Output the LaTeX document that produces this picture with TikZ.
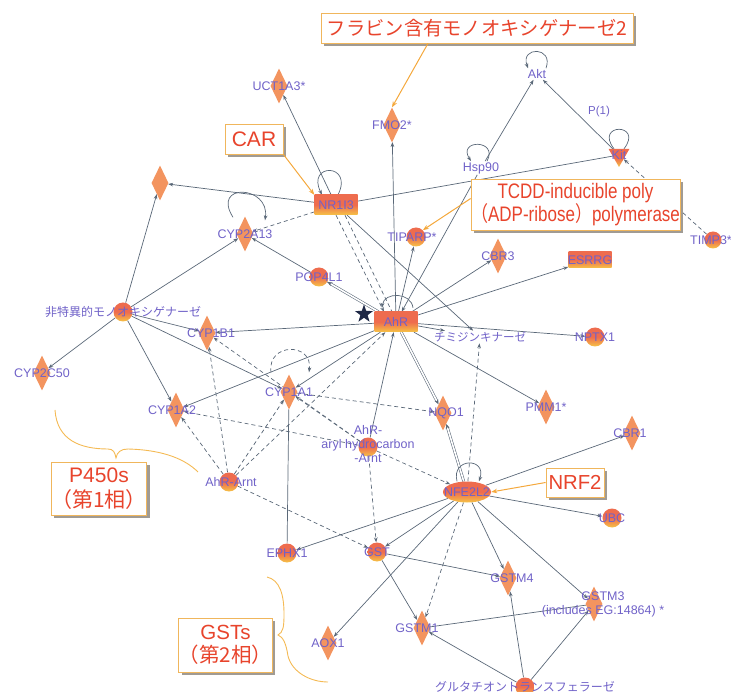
\documentclass[tikz,border=0pt]{standalone}
\usepackage{fontspec}
\setmainfont{Liberation Sans}
\newfontfamily\jp{Noto Sans CJK JP}
\newfontfamily\narrowsans[FakeStretch=0.81]{Liberation Sans}
\newfontfamily\narrowjp[FakeStretch=0.81]{Noto Sans CJK JP}
\usetikzlibrary{shapes.geometric,arrows.meta,calc,backgrounds,shadows}
\definecolor{linec}{RGB}{90,104,120}
\definecolor{labc}{RGB}{112,98,200}
\definecolor{diac}{RGB}{243,148,95}
\definecolor{nodetop}{RGB}{238,108,78}
\definecolor{nodebot}{RGB}{246,196,70}
\definecolor{callr}{RGB}{232,68,44}
\definecolor{callb}{RGB}{240,182,92}
\definecolor{shadowc}{RGB}{160,155,148}
\definecolor{orarr}{RGB}{244,168,60}
\definecolor{bracec}{RGB}{244,186,84}
\definecolor{starc}{RGB}{30,40,70}
\begin{document}
\begin{tikzpicture}[x=1pt,y=-1pt,
  lab/.style={text=labc, font=\fontsize{12.5}{14}\selectfont, inner sep=0pt},
  jlab/.style={text=labc, font=\jp\fontsize{12}{14}\selectfont, inner sep=0pt},
  txt/.style={text=labc, font=\fontsize{12.5}{14}\selectfont, inner sep=1pt},
  dia/.style={diamond, fill=diac, minimum width=17pt, minimum height=35pt, inner sep=0pt},
  circ/.style={circle, minimum size=19pt, inner sep=0pt, top color=nodetop, bottom color=nodebot, middle color=nodetop},
  rct/.style={rectangle, minimum width=43pt, minimum height=20pt, inner sep=0pt, top color=nodetop, bottom color=nodebot, middle color=nodetop},
  ell/.style={ellipse, minimum width=48pt, minimum height=21pt, inner sep=0pt, top color=nodetop, bottom color=nodebot, middle color=nodetop},
  tri/.style={regular polygon, regular polygon sides=3, shape border rotate=180, minimum size=24pt, inner sep=0pt, top color=nodetop, bottom color=nodebot, middle color=nodetop},
  call/.style={draw=callb, line width=0.8pt, fill=white, text=callr, inner sep=0pt, align=center,
     drop shadow={shadow xshift=3pt, shadow yshift=-3pt, fill=shadowc, opacity=1}},
  ed/.style={draw=linec, line width=0.7pt, -{Stealth[length=5pt,width=3.6pt]}},
  edd/.style={ed, dash pattern=on 4pt off 3pt},
  pl/.style={draw=linec, line width=0.7pt},
  pld/.style={pl, dash pattern=on 4pt off 3pt},
  dbl/.style={draw=linec, line width=0.55pt, double=white, double distance=1.6pt, -{Stealth[length=5pt,width=4pt]}},
  carr/.style={draw=orarr, line width=1pt, -{Stealth[length=6pt,width=4.5pt]}},
  brc/.style={draw=bracec, line width=0.9pt}
]
\useasboundingbox (0,0) rectangle (731,692);

% ---------- nodes ----------
\node[txt] (akt) at (537,74) {Akt};
\node[tri, label={[lab]center:Kit}] (kit) at (619,155) {};
\node[txt] (hsp) at (481,168) {Hsp90};
\node[txt, font=\fontsize{11.5}{13}\selectfont] (p1) at (599,112) {P(1)};
\node[circ, minimum size=17pt, label={[lab,xshift=-2pt]center:TIMP3*}] (timp) at (713,240) {};
\node[dia, label={[lab]center:UCT1A3*}] (uct) at (279,86) {};
\node[dia, label={[lab]center:FMO2*}] (fmo) at (392,125) {};
\node[rct, label={[lab]center:NR1I3}] (nr) at (336,205) {};
\node[dia] (unk) at (160,183) {};
\node[dia, label={[lab]center:CYP2A13}] (c2a13) at (245,234) {};
\node[circ, label={[lab]center:POP4L1}] (pop) at (319,277) {};
\node[circ, label={[lab,xshift=-4pt]center:TIPARP*}] (tip) at (416,237) {};
\node[dia, label={[lab]center:CBR3}] (cbr3) at (498,256) {};
\node[rct, minimum height=16pt, label={[lab]center:ESRRG}] (esrrg) at (590,260) {};
\node[rct, label={[lab]center:AhR}] (ahr) at (396,322) {};
\node[star, star points=5, star point ratio=2.5, fill=starc, minimum size=19pt, inner sep=0pt] (star) at (364,314) {};
\node[circ, label={[jlab]center:非特異的モノオキシゲナーゼ}] (nons) at (123,312) {};
\node[dia, label={[lab,xshift=4pt]center:CYP1B1}] (c1b1) at (207,333) {};
\node[txt, font=\jp\fontsize{11.5}{13}\selectfont] (thym) at (480,337) {チミジンキナーゼ};
\node[circ, label={[lab]center:NPTX1}] (nptx) at (595,337) {};
\node[dia, label={[lab]center:CYP2C50}] (c2c50) at (42,373) {};
\node[dia, label={[lab,xshift=-4pt]center:CYP1A2}] (c1a2) at (176,410) {};
\node[dia, label={[lab]center:CYP1A1}] (c1a1) at (289,392) {};
\node[dia, label={[lab,xshift=3pt]center:NQO1}] (nqo) at (443,413) {};
\node[dia, label={[lab]center:PMM1*}] (pmm) at (546,407) {};
\node[circ, label={[lab,align=center,yshift=3pt]center:{AhR-\\aryl hydrocarbon\\-Arnt}}] (aryl) at (368,447) {};
\node[circ, label={[lab,xshift=2pt]center:AhR-Arnt}] (ahrarnt) at (229,482) {};
\node[ell, label={[lab]center:NFE2L2}] (nfe) at (467,492) {};
\node[dia, label={[lab,xshift=-2pt]center:CBR1}] (cbr1) at (632,433) {};
\node[circ, label={[lab]center:UBC}] (ubc) at (612,518) {};
\node[circ, label={[lab]center:EPHX1}] (ephx) at (287,553) {};
\node[circ, label={[lab]center:GST}] (gst) at (377,552) {};
\node[dia, label={[lab,xshift=4pt]center:GSTM4}] (gstm4) at (508,578) {};
\node[dia, label={[lab,align=center,xshift=9pt]center:{GSTM3\\(includes EG:14864) *}}] (gstm3) at (594,604) {};
\node[dia, label={[lab,xshift=-5pt]center:GSTM1}] (gstm1) at (422,628) {};
\node[dia, label={[lab]center:AOX1}] (aox) at (328,643) {};
\node[circ, label={[jlab]center:グルタチオントランスフェラーゼ}] (glut) at (525,687) {};

% ---------- callouts ----------
\node[call, minimum width=312pt, minimum height=30pt, font=\jp\fontsize{19.3}{22}\selectfont] (flav) at (477,28) {フラビン含有モノオキシゲナーゼ2};
\node[call, minimum width=58pt, minimum height=30pt, font=\fontsize{21}{24}\selectfont] (car) at (254,139) {CAR};
\node[call, minimum width=195pt, minimum height=51pt, font=\narrowsans\fontsize{21}{23}\selectfont] (tcdd) at (575.5,204.5) {TCDD-inducible poly\\{\narrowjp （}ADP-ribose{\narrowjp ）}polymerase};
\node[call, minimum width=58pt, minimum height=29pt, font=\fontsize{20.3}{24}\selectfont] (nrf) at (575,482.5) {NRF2};
\node[call, minimum width=92pt, minimum height=53pt, font=\fontsize{21}{25}\selectfont] (p450) at (99,488.5) {P450s\\{\jp （第1相）}};
\node[call, minimum width=91pt, minimum height=54pt, font=\fontsize{20.5}{23}\selectfont] (gsts) at (225.5,645) {GSTs\\{\jp （第2相）}};

\draw[carr] ([xshift=-49pt]flav.south) -- (fmo.north);
\draw[carr] (car.south east) -- (nr.north west);
\draw[carr] ([yshift=6pt]tcdd.west) -- (tip.north east);
\draw[carr] (nrf.west) -- (nfe.east);

% braces
\draw[brc] (55,410) .. controls (57,440) and (80,449) .. (108,449) .. controls (113,449) and (115,452) .. (116,458) .. controls (117,452) and (121,449) .. (128,449) .. controls (165,450) and (186,460) .. (198,472);
\draw[brc] (267,577) .. controls (280,580) and (284,595) .. (284,614) .. controls (284,628) and (283,632) .. (278,635) .. controls (283,637) and (286,643) .. (288,656) .. controls (292,672) and (310,682) .. (328,682);

% ---------- edges ----------
\begin{scope}[on background layer]
\draw[ed] (ahr) -- (c1b1);
\draw[ed] (ahr) -- (c1a2);
\draw[ed] (ahr) -- (c1a1);
\draw[ed] (ahr) -- (c2a13);
\draw[dbl] (ahr) -- (pop);
\draw[ed] (ahr) -- (fmo);
\draw[ed] (ahr) -- (tip);
\draw[ed] (ahr) -- (cbr3);
\draw[ed] (ahr) -- (esrrg);
\draw[ed] (ahr) -- (nptx);
\draw[ed] (ahr) -- (thym);
\draw[ed] (ahr) -- (pmm);
\draw[dbl] (ahr) -- (nqo);
\draw[ed] (aryl) -- (ahr);
\draw[ed] (hsp) -- (ahr);
\draw[ed] (hsp) -- (akt);
\draw[ed] (kit) -- (akt);
\draw[edd] (timp) -- (kit);
\draw[pl] (nr) -- (kit);
\draw[ed] (nr) -- (uct);
\draw[ed] (nr) -- (unk);
\draw[edd] (nr) -- (c2a13);
\draw[edd] (nr.south) -- ([xshift=-12pt]ahr.north);
\draw[pld] ([xshift=9pt]nr.south) -- ([xshift=-4pt]ahr.north);
\draw[ed] (nr) -- (thym);
% non-specific monooxygenase
\draw[ed] (nons) -- (unk);
\draw[ed] (nons) -- (c2a13);
\draw[ed] (nons) -- (c1b1);
\draw[ed] (nons) -- (c1a1);
\draw[ed] (nons) -- (c1a2);
\draw[ed] (nons) -- (c2c50);
% dashed cluster
\draw[edd] (ahrarnt) -- (c1a2);
\draw[edd] (ahrarnt) -- (c1b1);
\draw[edd] (ahrarnt) -- (c1a1);
\draw[edd] (ahrarnt) -- (ahr);
\draw[edd] (ahrarnt) -- (gst);
\draw[edd] (aryl) -- (c1a2);
\draw[edd] (aryl) -- (c1a1);
\draw[edd] (aryl) -- (c1b1);
\draw[edd] (aryl) -- (nfe);
\draw[edd] (aryl) -- (gst);
\draw[edd] (c1a1) -- (nqo);
\draw[pl] (c1a1) -- (ephx);
% NFE2L2
\draw[dbl] (nfe) -- (nqo);
\draw[edd] (nfe) -- (thym);
\draw[ed] (nfe) -- (cbr1);
\draw[ed] (nfe) -- (ubc);
\draw[ed] (nfe) -- (gstm3);
\draw[ed] (nfe) -- (gstm4);
\draw[ed] (nfe) -- (gst);
\draw[ed] (nfe) -- (ephx);
\draw[ed] (nfe) -- (aox);
\draw[edd] (nfe) -- (gstm1);
% GSTs
\draw[ed] (gst) -- (gstm1);
\draw[ed] (gst) -- (gstm4);
\draw[pl] (gstm1) -- (gstm3);
\draw[ed] (glut) -- (gstm1);
\draw[ed] (glut) -- (gstm4);
\draw[ed] (glut) -- (gstm3);
% self loops
\draw[ed] ([xshift=9pt]akt.north) .. controls +(8,-22) and +(-8,-22) .. ([xshift=-9pt]akt.north);
\draw[pl] ([xshift=-5pt]kit.north) .. controls +(-20,-26) and +(20,-26) .. ([xshift=5pt]kit.north);
\draw[ed] ([xshift=6pt]hsp.north) .. controls +(12,-22) and +(-14,-22) .. ([xshift=-10pt]hsp.north);
\draw[ed] ([xshift=2pt]nr.north) .. controls +(16,-32) and +(-16,-32) .. ([xshift=-14pt]nr.north);
\draw[ed] ([xshift=-12pt,yshift=-1pt]c2a13.north) .. controls +(-22,-35) and +(5,-35) .. ([xshift=20pt,yshift=-4pt]c2a13.north);
\draw[ed] ([xshift=17pt,yshift=4pt]ahr.north) .. controls +(-2,-16) and +(2,-16) .. ([xshift=-14pt,yshift=4pt]ahr.north);
\draw[edd] ([xshift=-18pt,yshift=2pt]c1a1.north) .. controls +(-4,-30) and +(4,-30) .. ([xshift=20pt,yshift=2pt]c1a1.north);
\draw[ed] ([xshift=-10pt]nfe.north) .. controls +(-6,-24) and +(8,-24) .. ([xshift=12pt]nfe.north);
\end{scope}
\end{tikzpicture}
\end{document}
